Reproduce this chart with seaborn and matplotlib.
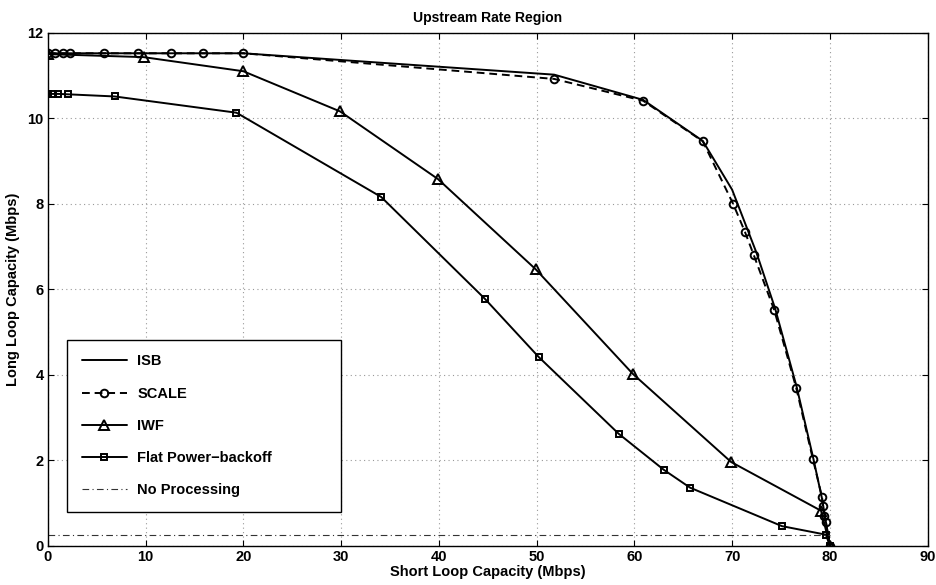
import numpy as np
import matplotlib
matplotlib.use('Agg')
import matplotlib.pyplot as plt
import seaborn as sns
import pandas as pd

# data
isb_x = [0, 20, 51.8, 60.9, 67.0, 70.0, 72.5, 74.4, 76.6, 78.3, 79.2, 80.0]
isb_y = [11.52, 11.52, 11.02, 10.43, 9.47, 8.33, 6.85, 5.55, 3.72, 2.05, 1.10, 0.0]

scale_x = [0, 0.7, 1.6, 2.3, 5.8, 9.2, 12.6, 15.9, 20.0, 51.8, 60.9, 67.0, 70.1,
           71.3, 72.2, 74.3, 76.55, 78.25, 79.2, 79.3, 79.45, 79.6, 80.0]
scale_y = [11.52, 11.52, 11.52, 11.52, 11.52, 11.52, 11.52, 11.52, 11.52, 10.92,
           10.41, 9.46, 8.0, 7.35, 6.81, 5.52, 3.70, 2.04, 1.14, 0.94, 0.69, 0.55, 0.0]

iwf_x = [0, 9.8, 20.0, 29.9, 39.9, 49.9, 59.85, 69.9, 79.1, 80.0]
iwf_y = [11.5, 11.43, 11.1, 10.16, 8.58, 6.47, 4.02, 1.96, 0.82, 0.0]

flat_x = [0, 0.5, 1.05, 2.1, 6.85, 19.3, 34.1, 44.7, 50.2, 58.4, 63.0, 65.7, 75.1, 79.6, 80.0]
flat_y = [10.57, 10.57, 10.57, 10.56, 10.51, 10.13, 8.16, 5.78, 4.42, 2.62, 1.78, 1.36, 0.46, 0.26, 0.0]

noproc_x = [0, 80.0]
noproc_y = [0.25, 0.25]

labels = ['ISB', 'SCALE', 'IWF', 'Flat Power\u2212backoff', 'No Processing']

sns.set_style('ticks')
plt.rcParams['font.family'] = ['Liberation Sans', 'DejaVu Sans']
plt.rcParams['font.weight'] = 'bold'
plt.rcParams['axes.labelweight'] = 'bold'
plt.rcParams['axes.titleweight'] = 'bold'
plt.rcParams['text.color'] = 'black'
plt.rcParams['axes.labelcolor'] = 'black'
plt.rcParams['xtick.color'] = 'black'
plt.rcParams['ytick.color'] = 'black'

fig, ax = plt.subplots(figsize=(9.37, 5.85), dpi=100)
fig.subplots_adjust(left=0.051, right=0.990, top=0.944, bottom=0.067)

ax.grid(True, color='#999999', linestyle=(0, (1, 3)), linewidth=0.8)
ax.set_axisbelow(True)

lw = 1.4
sns.lineplot(x=isb_x, y=isb_y, sort=False, estimator=None, ax=ax, color='black',
             linewidth=lw, label=labels[0])
sns.lineplot(x=scale_x, y=scale_y, sort=False, estimator=None, ax=ax, color='black',
             linewidth=lw, marker='o', markersize=5.5, markerfacecolor='none',
             markeredgecolor='black', markeredgewidth=1.4, dashes=False, label=labels[1])
ax.lines[-1].set_dashes([4, 2.5])
sns.lineplot(x=iwf_x, y=iwf_y, sort=False, estimator=None, ax=ax, color='black',
             linewidth=lw, marker='^', markersize=6.5, markerfacecolor='none',
             markeredgecolor='black', markeredgewidth=1.4, label=labels[2])
sns.lineplot(x=flat_x, y=flat_y, sort=False, estimator=None, ax=ax, color='black',
             linewidth=lw, marker='s', markersize=4.8, markerfacecolor='none',
             markeredgecolor='black', markeredgewidth=1.4, label=labels[3])
sns.lineplot(x=noproc_x, y=noproc_y, sort=False, estimator=None, ax=ax, color='#333333',
             linewidth=0.8, linestyle='-.', label=labels[4])
ax.lines[-1].set_dashes([6, 3, 1, 3])

ax.set_xlim(0, 90)
ax.set_ylim(0, 12)
ax.set_xticks(np.arange(0, 91, 10))
ax.set_yticks(np.arange(0, 13, 2))
ax.tick_params(direction='in', length=4, width=0.8, top=True, right=True,
               labelsize=10.5, pad=3, colors='black')
for s in ax.spines.values():
    s.set_linewidth(1.0)
    s.set_color('black')

ax.set_title('Upstream Rate Region', fontsize=10, pad=8)
ax.set_xlabel('Short Loop Capacity (Mbps)', fontsize=10.5, labelpad=1)
ax.set_ylabel('Long Loop Capacity (Mbps)', fontsize=10.5, labelpad=5)

leg = ax.legend(loc='lower left', bbox_to_anchor=(0.022, 0.066, 0.311, 0.34),
                mode='expand', fontsize=10.5, frameon=True, fancybox=False,
                edgecolor='black', framealpha=1, borderpad=1.0, labelspacing=1.25,
                handlelength=3.1, handletextpad=0.7, borderaxespad=0)
leg.get_frame().set_linewidth(1.0)
for t in leg.get_texts():
    t.set_color('black')

fig.savefig('out.png', dpi=100)
